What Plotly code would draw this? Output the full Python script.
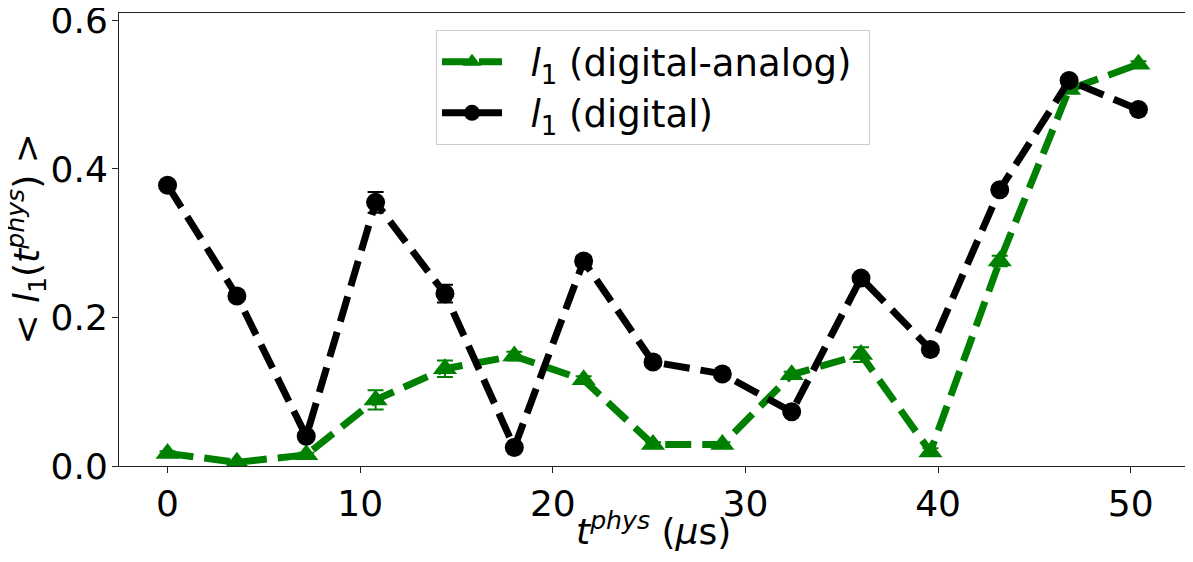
import plotly.graph_objects as go

# physical time (us)
t_phys = [0, 3.6, 7.2, 10.8, 14.4, 18, 21.6, 25.2, 28.8, 32.4, 36, 39.6, 43.2, 46.8, 50.4]

# l1 for digital-analog protocol
l1_da = [0.017, 0.005, 0.015, 0.089, 0.131, 0.148, 0.116, 0.029, 0.029, 0.123, 0.150, 0.019, 0.276, 0.507, 0.541]
l1_da_err = [0.003, 0.002, 0.003, 0.013, 0.011, 0.006, 0.005, 0.003, 0.003, 0.004, 0.010, 0.005, 0.007, 0.004, 0.004]

# l1 for digital protocol
l1_d = [0.378, 0.229, 0.040, 0.355, 0.232, 0.025, 0.276, 0.140, 0.124, 0.073, 0.253, 0.157, 0.372, 0.519, 0.480]
l1_d_err = [0.003, 0.004, 0.004, 0.014, 0.012, 0.003, 0.006, 0.003, 0.003, 0.003, 0.005, 0.004, 0.005, 0.004, 0.003]

font_family = "DejaVu Sans"
dash = "26px,11px"

fig = go.Figure()

fig.add_trace(go.Scatter(
    x=t_phys, y=l1_da,
    mode="lines+markers",
    name="&nbsp;&nbsp;<i>l</i><sub>1</sub> (digital-analog)&nbsp;",
    line=dict(color="green", width=7, dash=dash),
    marker=dict(symbol="triangle-up", size=21, color="green"),
    error_y=dict(type="data", array=l1_da_err, color="green", thickness=2, width=8),
))

fig.add_trace(go.Scatter(
    x=t_phys, y=l1_d,
    mode="lines+markers",
    name="&nbsp;&nbsp;<i>l</i><sub>1</sub> (digital)",
    line=dict(color="black", width=7, dash=dash),
    marker=dict(symbol="circle", size=19, color="black"),
    error_y=dict(type="data", array=l1_d_err, color="black", thickness=2, width=8),
))

# the page body adds an 8px margin, so the figure is sized/offset to fit the window
fig.update_layout(
    width=1180, height=546,
    margin=dict(l=111, r=1, t=5, b=88),
    plot_bgcolor="white",
    paper_bgcolor="white",
    font=dict(family=font_family, size=36, color="black"),
    legend=dict(
        x=0.5, y=0.962, xanchor="center", yanchor="top",
        bgcolor="rgba(255,255,255,0.8)",
        bordercolor="#cccccc", borderwidth=1,
        font=dict(size=37),
        itemwidth=60,
    ),
    showlegend=True,
    annotations=[
        dict(
            text="<i>t</i><sup><i>phys</i></sup> (<i>μ</i>s)",
            xref="paper", yref="paper", x=0.5, y=-0.14,
            xanchor="center", yanchor="middle",
            showarrow=False, font=dict(size=36),
        ),
        dict(
            text="< <i>l</i><sub>1</sub>(<i>t</i><sup><i>phys</i></sup>) >",
            xref="paper", yref="paper", x=-0.087, y=0.5,
            xanchor="center", yanchor="middle", textangle=-90,
            showarrow=False, font=dict(size=36),
        ),
    ],
)

fig.update_xaxes(
    range=[-2.52, 52.92],
    tickvals=[0, 10, 20, 30, 40, 50],
    showgrid=False, zeroline=False,
    showline=True, linecolor="#222", linewidth=1, mirror=True,
    ticks="outside", ticklen=6, tickcolor="#222",
    tickfont=dict(size=36),
    automargin=False, ticklabeloverflow="allow",
)

fig.update_yaxes(
    range=[0, 0.61],
    tickvals=[0.0, 0.2, 0.4, 0.6],
    tickformat=".1f",
    showgrid=False, zeroline=False,
    showline=True, linecolor="#222", linewidth=1, mirror=True,
    ticks="outside", ticklen=6, tickcolor="#222",
    tickfont=dict(size=36),
    ticklabelstandoff=-3,
    automargin=False, ticklabeloverflow="allow",
)

fig.write_html("out.html")
